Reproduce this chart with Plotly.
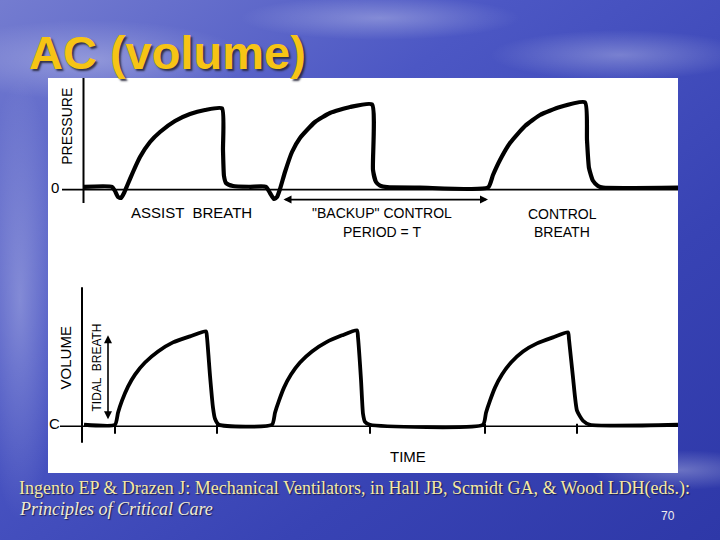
import plotly.graph_objects as go
import urllib.parse

# ---------------- data ----------------
# Airway pressure waveform (cmH2O) vs time (s)
time_p = [0.00, 0.28, 0.31, 0.34, 0.37, 0.40, 0.43, 0.49, 0.56, 0.66, 0.76, 0.91, 1.06, 1.21, 1.38,
          1.39, 1.40, 1.42, 1.49, 1.66, 1.82, 1.86, 1.90, 1.93, 1.96, 2.01, 2.08, 2.16, 2.31, 2.46,
          2.66, 2.88, 2.89, 2.92, 2.96, 3.03, 3.36, 4.04, 4.09, 4.16, 4.26, 4.41, 4.56, 4.76, 5.01,
          5.03, 5.05, 5.09, 5.14, 5.19, 5.94]
pressure = [0.3, 0.3, -0.75, -2.25, -2.5, -1.25, 0.5, 4.0, 7.75, 11.5, 14.0, 16.75, 18.5, 19.5, 19.9,
            9.5, 3.0, 1.25, 0.5, 0.3, 0.3, -1.25, -2.75, -2.25, -0.25, 4.0, 9.0, 12.5, 16.5, 18.75,
            20.25, 20.9, 4.5, 1.5, 0.6, 0.2, 0.1, 0.1, 3.25, 7.0, 11.25, 15.5, 18.25, 20.25, 21.4,
            12.0, 5.0, 1.8, 0.5, 0.1, 0.1]

# Volume waveform (mL) vs time (s)
time_v = [0.00, 0.31, 0.34, 0.38, 0.44, 0.51, 0.61, 0.74, 0.89, 1.06, 1.22,
          1.23, 1.26, 1.29, 1.31, 1.35, 1.88, 1.91, 1.95, 2.00, 2.07, 2.16, 2.28, 2.42, 2.58, 2.73,
          2.74, 2.77, 2.79, 2.81, 2.86, 3.99, 4.02, 4.06, 4.11, 4.18, 4.27, 4.39, 4.53, 4.69, 4.84,
          4.85, 4.89, 4.93, 4.99, 5.06, 5.94]
volume = [5, 5, 65, 125, 195, 255, 315, 370, 415, 445, 470,
          440, 250, 90, 35, 5, 5, 65, 125, 190, 255, 315, 370, 415, 450, 475,
          440, 230, 60, 20, 5, 5, 65, 125, 190, 255, 315, 370, 410, 440, 465,
          430, 240, 75, 25, 5, 5]

# Breath markers on the time axis of the volume panel (s)
marker_times = [0.31, 1.33, 2.86, 4.01, 4.93]

# Backup control period T (s) and tidal breath (mL)
backup_start, backup_end = 1.98, 4.04
tidal_low, tidal_high = 25, 450

title_text = "AC (volume)"
citation_1 = "Ingento EP &amp; Drazen J: Mechanical Ventilators, in Hall JB, Scmidt GA, &amp; Wood LDH(eds.):"
citation_2 = "<i>Principles of Critical Care</i>"
slide_no = "70"

# ---------------- figure ----------------
W, H = 720, 540
def px(v):
    return v / W
def py(v):
    return 1 - v / H

X_RANGE = [-0.36, 5.94]
P_RANGE = [-18, 27.5]
V_RANGE = [-235, 825]

fig = go.Figure()

fig.add_trace(go.Scatter(x=time_p, y=pressure, mode="lines", xaxis="x", yaxis="y",
                         line=dict(color="black", width=4.2, shape="spline", smoothing=0.5),
                         hoverinfo="skip"))
fig.add_trace(go.Scatter(x=time_v, y=volume, mode="lines", xaxis="x2", yaxis="y2",
                         line=dict(color="black", width=3.8, shape="spline", smoothing=0.5),
                         hoverinfo="skip"))

ax_common = dict(showgrid=False, zeroline=False, showticklabels=False, ticks="",
                 showline=False, fixedrange=True)
fig.update_layout(
    width=W, height=H, autosize=False,
    margin=dict(l=0, r=0, t=0, b=0),
    paper_bgcolor="#3d48b8", plot_bgcolor="rgba(0,0,0,0)",
    showlegend=False,
    xaxis=dict(domain=[px(48), px(678)], range=X_RANGE, anchor="y", **ax_common),
    yaxis=dict(domain=[py(260), py(78)], range=P_RANGE, anchor="x", **ax_common),
    xaxis2=dict(domain=[px(48), px(678)], range=X_RANGE, anchor="y2", **ax_common),
    yaxis2=dict(domain=[py(473), py(260)], range=V_RANGE, anchor="x2", **ax_common),
)

# slide background (gradient with soft streaks)
bg_svg = (
    "<svg xmlns='http://www.w3.org/2000/svg' width='720' height='540'>"
    "<defs>"
    "<linearGradient id='g' x1='0' y1='0' x2='1' y2='1'>"
    "<stop offset='0' stop-color='#747cd0'/>"
    "<stop offset='0.35' stop-color='#4c57c4'/>"
    "<stop offset='0.7' stop-color='#3843b4'/>"
    "<stop offset='1' stop-color='#2e38a8'/>"
    "</linearGradient>"
    "<radialGradient id='c1' cx='0.5' cy='0.5' r='0.5'>"
    "<stop offset='0' stop-color='#ffffff' stop-opacity='0.28'/>"
    "<stop offset='1' stop-color='#ffffff' stop-opacity='0'/>"
    "</radialGradient>"
    "</defs>"
    "<rect width='720' height='540' fill='url(#g)'/>"
    "<ellipse cx='90' cy='60' rx='160' ry='40' fill='url(#c1)'/>"
    "<ellipse cx='380' cy='18' rx='140' ry='22' fill='url(#c1)'/>"
    "<ellipse cx='620' cy='55' rx='130' ry='25' fill='url(#c1)'/>"
    "<ellipse cx='20' cy='300' rx='40' ry='220' fill='url(#c1)'/>"
    "<ellipse cx='680' cy='470' rx='90' ry='20' fill='url(#c1)'/>"
    "</svg>"
)
fig.add_layout_image(dict(
    source="data:image/svg+xml;charset=utf-8," + urllib.parse.quote(bg_svg),
    xref="paper", yref="paper", x=0, y=1, sizex=1, sizey=1,
    xanchor="left", yanchor="top", sizing="stretch", layer="below"))

# white figure panel
fig.add_shape(type="rect", xref="paper", yref="paper",
              x0=px(48), x1=px(678), y0=py(473), y1=py(78),
              fillcolor="white", line=dict(width=0), layer="below")

# axes of the drawing
fig.add_shape(type="line", xref="x", yref="y", x0=-0.005, x1=-0.005, y0=-3.75, y1=27.5,
              line=dict(color="black", width=2))
fig.add_shape(type="line", xref="x", yref="y", x0=-0.22, x1=5.94, y0=-0.4, y1=-0.4,
              line=dict(color="black", width=1.6))
fig.add_shape(type="line", xref="x2", yref="y2", x0=-0.02, x1=-0.02, y0=-85, y1=690,
              line=dict(color="black", width=2))
fig.add_shape(type="line", xref="x2", yref="y2", x0=-0.24, x1=5.94, y0=-2, y1=-2,
              line=dict(color="black", width=1.6))
for t in marker_times:
    fig.add_shape(type="line", xref="x2", yref="y2", x0=t, x1=t, y0=10, y1=-40,
                  line=dict(color="black", width=2))

# arrows
fig.add_annotation(xref="x", yref="y", axref="x", ayref="y",
                   x=backup_end, y=-2.9, ax=backup_start, ay=-2.9, text="",
                   showarrow=True, arrowhead=2, startarrowhead=2, arrowside="end+start",
                   arrowwidth=1.6, arrowsize=1, arrowcolor="black")
fig.add_annotation(xref="x2", yref="y2", axref="x2", ayref="y2",
                   x=0.24, y=tidal_high, ax=0.24, ay=tidal_low, text="",
                   showarrow=True, arrowhead=2, startarrowhead=2, arrowside="end+start",
                   arrowwidth=1.6, arrowsize=1, arrowcolor="black")

LBL = "Liberation Sans, Arial, sans-serif"
def label(text, xref, yref, x, y, size, angle=0):
    fig.add_annotation(xref=xref, yref=yref, x=x, y=y, text=text, showarrow=False,
                       textangle=angle, font=dict(family=LBL, size=size, color="#000"),
                       xanchor="center", yanchor="middle")

label("PRESSURE", "x", "y", -0.17, 15.3, 14, -90)
label("0", "x", "y", -0.29, 0.0, 15)
label("ASSIST  BREATH", "x", "y", 1.07, -6.1, 15)
label("\"BACKUP\" CONTROL", "x", "y", 2.98, -6.3, 14)
label("PERIOD = T", "x", "y", 2.98, -11.0, 14)
label("CONTROL", "x", "y", 4.78, -6.6, 14)
label("BREATH", "x", "y", 4.78, -11.0, 14)
label("VOLUME", "x2", "y2", -0.19, 335, 15, -90)
label("TIDAL  BREATH", "x2", "y2", 0.13, 290, 12, -90)
label("C", "x2", "y2", -0.30, 10, 15)
label("TIME", "x2", "y2", 3.24, -155, 15)

# slide title
fig.add_annotation(xref="paper", yref="paper", x=px(27), y=py(52), xanchor="left", yanchor="middle",
                   text="<b>" + title_text + "</b>", showarrow=False,
                   font=dict(family="Liberation Sans, Arial, sans-serif", size=47, color="#f6c415",
                             shadow="2px 2px 2px rgba(40,40,60,0.9)"))

# citation
fig.add_annotation(xref="paper", yref="paper", x=px(17), y=py(488), xanchor="left", yanchor="middle",
                   text=citation_1, showarrow=False,
                   font=dict(family="Liberation Serif, Times New Roman, serif", size=18, color="#f4e9a6",
                             shadow="1px 1px 1px rgba(20,20,60,0.8)"))
fig.add_annotation(xref="paper", yref="paper", x=px(17), y=py(509), xanchor="left", yanchor="middle",
                   text=citation_2, showarrow=False,
                   font=dict(family="Liberation Serif, Times New Roman, serif", size=18, color="#f1ecd2",
                             shadow="1px 1px 1px rgba(20,20,60,0.8)"))
fig.add_annotation(xref="paper", yref="paper", x=px(668), y=py(516), xanchor="center", yanchor="middle",
                   text=slide_no, showarrow=False,
                   font=dict(family="Liberation Sans, Arial, sans-serif", size=12, color="#eeeeee"))

fig.write_html("out.html", config={"displayModeBar": False, "staticPlot": True},
               post_script="document.body.style.margin='0';")
